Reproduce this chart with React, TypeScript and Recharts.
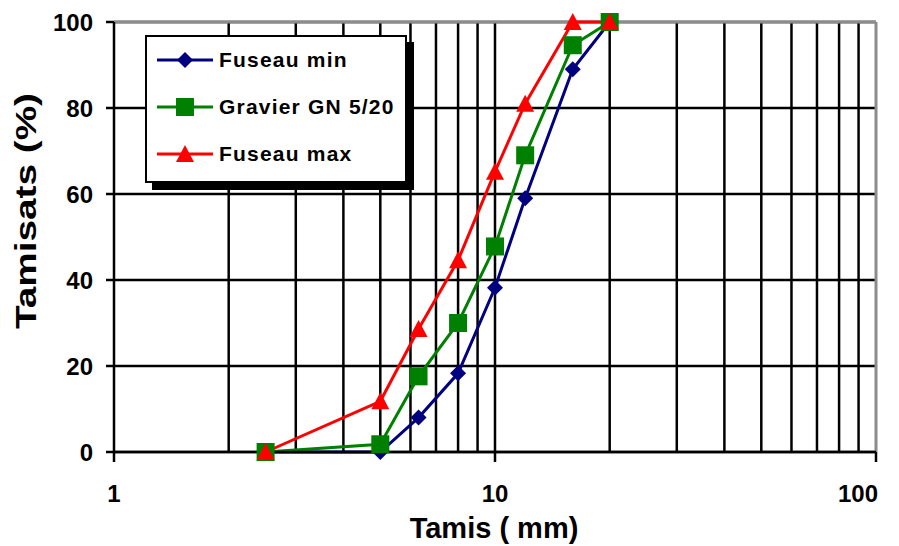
import React from 'react';
import {
  LineChart,
  Line,
  XAxis,
  YAxis,
  CartesianGrid,
  ReferenceLine,
  Legend,
} from 'recharts';

// sieve openings (mm), log axis
const tamis = [2.5, 5, 6.3, 8, 10, 12, 16, 20];
const fuseauMin = [0, 0, 8, 18.3, 38.2, 59, 89, 100];
const gravier = [0, 1.8, 17.6, 30, 47.8, 69, 94.6, 100];
const fuseauMax = [0, 11.8, 28.6, 44.6, 65.2, 81, 100, 100];

const xTicks = [1, 10, 100];
const yTicks = [0, 20, 40, 60, 80, 100];
const minorX = [2, 3, 4, 5, 6, 7, 8, 9, 10, 20, 30, 40, 50, 60, 70, 80, 90];

const BLUE = '#000080';
const GREEN = '#008000';
const RED = '#FF0000';
const FONT = '"Liberation Sans", Arial, sans-serif';

const data = tamis.map((t, i) => ({
  tamis: t,
  min: fuseauMin[i],
  gravier: gravier[i],
  max: fuseauMax[i],
}));

const Diamond = ({ cx, cy, size = 8 }: any) => (
  <polygon
    points={`${cx},${cy - size} ${cx + size},${cy} ${cx},${cy + size} ${cx - size},${cy}`}
    fill={BLUE}
  />
);
const Square = ({ cx, cy, size = 9 }: any) => (
  <rect x={cx - size} y={cy - size} width={size * 2} height={size * 2} fill={GREEN} />
);
const Triangle = ({ cx, cy, size = 9 }: any) => (
  <polygon
    points={`${cx},${cy - size} ${cx + size},${cy + size - 1} ${cx - size},${cy + size - 1}`}
    fill={RED}
  />
);

const legendItems = [
  { label: 'Fuseau min', color: BLUE, Marker: Diamond },
  { label: 'Gravier GN 5/20', color: GREEN, Marker: Square },
  { label: 'Fuseau max', color: RED, Marker: Triangle },
];

function LegendBox() {
  return (
    <div
      style={{
        width: 258,
        height: 144,
        border: '2px solid #000',
        background: '#fff',
        boxShadow: '7px 7px 0 #000',
        position: 'relative',
        fontFamily: FONT,
      }}
    >
      {legendItems.map((it, i) => (
        <div
          key={it.label}
          style={{
            position: 'absolute',
            left: 8,
            top: 8 + i * 47,
            height: 30,
            display: 'flex',
            alignItems: 'center',
          }}
        >
          <svg width={60} height={30}>
            <line x1={2} y1={15} x2={58} y2={15} stroke={it.color} strokeWidth={3} />
            <it.Marker cx={30} cy={15} />
          </svg>
          <span
            style={{
              marginLeft: 4,
              fontSize: 21,
              fontWeight: 'bold',
              letterSpacing: 1.2,
              color: '#000',
              whiteSpace: 'nowrap',
            }}
          >
            {it.label}
          </span>
        </div>
      ))}
    </div>
  );
}

const XTick = ({ x, y, payload }: any) => {
  const last = payload.value === 100;
  return (
    <text
      x={last ? x + 2 : x}
      y={y}
      dy={38}
      textAnchor={last ? 'end' : 'middle'}
      fontFamily={FONT}
      fontWeight="bold"
      fontSize={24}
      fill="#000"
    >
      {payload.value}
    </text>
  );
};

export default function App() {
  return (
    <div style={{ position: 'absolute', left: 0, top: 0, background: '#fff' }}>
      <LineChart
        width={899}
        height={546}
        data={data}
        margin={{ top: 22, right: 23, left: 0, bottom: 0 }}
      >
        <CartesianGrid vertical={false} stroke="#000" strokeWidth={2.5} />
        {minorX.map((v) => (
          <ReferenceLine key={v} x={v} stroke="#000" strokeWidth={2.5} />
        ))}
        <ReferenceLine y={100} stroke="#8c8c8c" strokeWidth={3} />
        <ReferenceLine x={100} stroke="#8c8c8c" strokeWidth={3} />
        <XAxis
          dataKey="tamis"
          type="number"
          scale="log"
          domain={[1, 100]}
          ticks={xTicks}
          allowDataOverflow
          height={94}
          tickSize={10}
          stroke="#000"
          strokeWidth={2.5}
          tick={<XTick />}
          label={{
            content: () => (
              <text
                x={494}
                y={538}
                textAnchor="middle"
                fontFamily={FONT}
                fontWeight="bold"
                fontSize={29}
                fill="#000"
              >
                Tamis ( mm)
              </text>
            ),
          }}
        />
        <YAxis
          type="number"
          domain={[0, 100]}
          ticks={yTicks}
          width={114}
          tickSize={8}
          tickMargin={13}
          stroke="#000"
          strokeWidth={2.5}
          tick={{ fill: '#000', fontSize: 24, fontWeight: 'bold', fontFamily: FONT }}
          label={{
            content: () => (
              <text
                x={0}
                y={0}
                transform="translate(36 211) rotate(-90)"
                textAnchor="middle"
                fontFamily={FONT}
                fontWeight="bold"
                fontSize={29}
                textLength={236}
                lengthAdjust="spacingAndGlyphs"
                fill="#000"
              >
                Tamisats (%)
              </text>
            ),
          }}
        />
        <Legend
          layout="horizontal"
          verticalAlign="middle"
          align="center"
          content={() => <LegendBox />}
          wrapperStyle={{ left: 145, top: 35, width: 262, height: 148 }}
        />
        <Line
          dataKey="min"
          stroke={BLUE}
          strokeWidth={3}
          dot={(p: any) => <Diamond key={p.index} cx={p.cx} cy={p.cy} />}
          isAnimationActive={false}
        />
        <Line
          dataKey="gravier"
          stroke={GREEN}
          strokeWidth={3}
          dot={(p: any) => <Square key={p.index} cx={p.cx} cy={p.cy} />}
          isAnimationActive={false}
        />
        <Line
          dataKey="max"
          stroke={RED}
          strokeWidth={3}
          dot={(p: any) => <Triangle key={p.index} cx={p.cx} cy={p.cy} />}
          isAnimationActive={false}
        />
      </LineChart>
    </div>
  );
}
